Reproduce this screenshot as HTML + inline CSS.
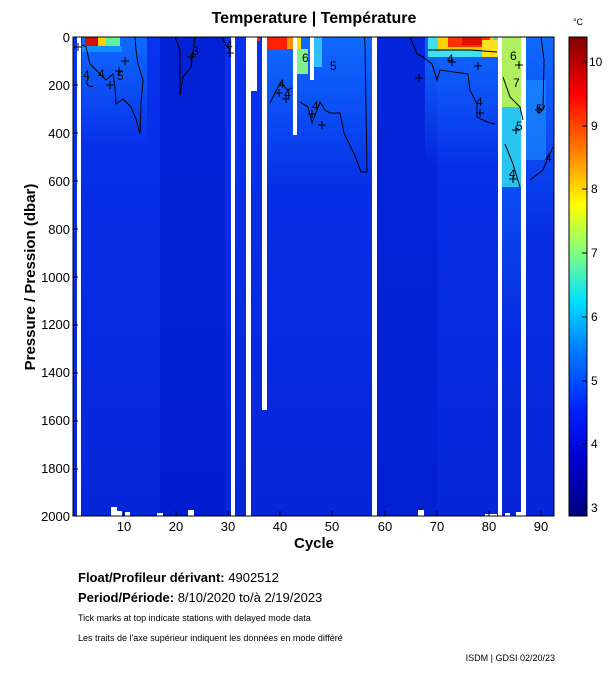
<!DOCTYPE html>
<html><head><meta charset="utf-8"><style>
body{margin:0;background:#fff;width:611px;height:675px;overflow:hidden;font-family:"Liberation Sans",sans-serif}
</style></head><body>
<svg width="611" height="675" xmlns="http://www.w3.org/2000/svg" font-family="Liberation Sans, sans-serif">
<defs>
<linearGradient id="cb" x1="0" y1="1" x2="0" y2="0">
<stop offset="0" stop-color="#000080"/>
<stop offset="0.12" stop-color="#0000d0"/>
<stop offset="0.22" stop-color="#0020ff"/>
<stop offset="0.35" stop-color="#0080ff"/>
<stop offset="0.45" stop-color="#00e0ff"/>
<stop offset="0.55" stop-color="#80ff80"/>
<stop offset="0.65" stop-color="#ffff00"/>
<stop offset="0.76" stop-color="#ff8000"/>
<stop offset="0.88" stop-color="#ff0000"/>
<stop offset="1" stop-color="#800000"/>
</linearGradient>
<linearGradient id="top" x1="0" y1="0" x2="0" y2="1">
<stop offset="0" stop-color="#1070ff" stop-opacity="0.9"/>
<stop offset="1" stop-color="#1070ff" stop-opacity="0"/>
</linearGradient>
<linearGradient id="dk" x1="0" y1="0" x2="0" y2="1">
<stop offset="0" stop-color="#0010b0" stop-opacity="0"/>
<stop offset="1" stop-color="#0010b0" stop-opacity="0.35"/>
</linearGradient>
</defs>
<text x="314" y="23" font-size="16" font-weight="bold" text-anchor="middle">Temperature | Température</text>
<text x="578" y="25" font-size="9" text-anchor="middle">°C</text>
<rect x="73" y="37" width="481" height="479" fill="#0832ee"/>
<rect x="73" y="37" width="481" height="479" fill="url(#dk)"/>
<rect x="160" y="37" width="65" height="479" fill="#0018c8" opacity="0.6"/>
<rect x="377" y="37" width="60" height="479" fill="#0018c8" opacity="0.45"/>
<rect x="82" y="37" width="65" height="110" fill="url(#top)"/>
<rect x="266" y="37" width="106" height="150" fill="url(#top)"/>
<rect x="425" y="37" width="73" height="130" fill="url(#top)"/>
<rect x="502" y="37" width="19" height="300" fill="url(#top)"/>
<rect x="526" y="37" width="28" height="200" fill="url(#top)"/>
<rect x="85" y="37" width="13" height="9" fill="#d01000"/>
<rect x="98" y="37" width="8" height="9" fill="#ffd000"/>
<rect x="106" y="37" width="14" height="10" fill="#60f0a0"/>
<rect x="82" y="46" width="40" height="6" fill="#1090ff"/>
<rect x="252" y="37" width="8" height="4" fill="#ff3000"/>
<rect x="267" y="37" width="20" height="12" fill="#ff2000"/>
<rect x="287" y="37" width="6" height="12" fill="#ff9000"/>
<rect x="297" y="37" width="4" height="12" fill="#ffe000"/>
<rect x="297" y="49" width="11" height="25" fill="#80f090"/>
<rect x="314" y="37" width="8" height="30" fill="#30c0ff"/>
<rect x="428" y="37" width="70" height="20" fill="#40e0f0"/>
<rect x="438" y="37" width="55" height="12" fill="#ffd000"/>
<rect x="448" y="37" width="42" height="10" fill="#ff3000"/>
<rect x="462" y="37" width="20" height="8" fill="#e01000"/>
<rect x="482" y="40" width="16" height="17" fill="#ffe020"/>
<rect x="502" y="37" width="19" height="70" fill="#b0f060"/>
<rect x="502" y="107" width="19" height="80" fill="#30d8f0" opacity="0.85"/>
<rect x="526" y="80" width="20" height="80" fill="#20a0ff" opacity="0.5"/>
<g fill="#fff">
<rect x="77" y="37" width="4" height="479"/>
<rect x="231" y="37" width="4" height="479"/>
<rect x="246" y="37" width="5" height="479"/>
<rect x="251" y="37" width="6" height="54"/>
<rect x="262" y="37" width="5" height="373"/>
<rect x="293" y="37" width="4" height="98"/>
<rect x="310" y="37" width="4" height="43"/>
<rect x="372" y="37" width="5" height="479"/>
<rect x="498" y="37" width="4" height="479"/>
<rect x="521" y="37" width="5" height="479"/>
<rect x="111" y="507" width="6" height="9"/><rect x="117" y="511" width="5" height="5"/>
<rect x="125" y="512" width="5" height="4"/><rect x="157" y="513" width="6" height="3"/>
<rect x="188" y="510" width="6" height="6"/><rect x="418" y="510" width="6" height="6"/>
<rect x="485" y="514" width="12" height="2"/><rect x="505" y="513" width="5" height="3"/><rect x="516" y="512" width="5" height="4"/>
</g>
<g fill="none" stroke="#000" stroke-width="1">
<path d="M82 45 L86 47 L90 64 L96 70 L106 80 L113 74 L115 87 L116 104 L123 99 L131 107 L136 119 L140 134 L141 104 L143 80 L138 64 L136 50 L135 37"/>
<path d="M89 78 C84 82 88 88 93 86"/>
<path d="M175 37 L180 50 L180 95 L183 77 L191 67 L195 37"/>
<path d="M222 37 L226 45 L230 50"/>
<path d="M270 103 L278 87 L282 83 L287 90 L292 88"/>
<path d="M300 102 L308 107 L312 123 L317 110 L320 102 L325 110 L330 113 L340 113 L344 133 L355 156 L361 172 L367 172 L365 43 L364 37"/>
<path d="M410 37 L417 54 L423 57 L432 64 L437 80 L440 70 L468 74 L470 90 L477 104 L477 117 L487 122 L495 124"/>
<path d="M428 50 L470 50 L497 52"/>
<path d="M503 77 L510 97 L520 107 L523 120"/>
<path d="M505 144 L513 164 L520 187"/>
<path d="M530 180 L543 170 L547 160 L553 147"/>
<path d="M541 37 L544 60 L543 110 L545 105"/>
</g>
<g stroke="#000" stroke-width="1">
<path d="M74 47h8M78 43v8M115 71h8M119 67v8M121 61h8M125 57v8M106 85h8M110 81v8M187 57h8M191 53v8M226 53h8M230 49v8M275 93h8M279 89v8M282 99h8M286 95v8M308 114h8M312 110v8M318 125h8M322 121v8M415 78h8M419 74v8M448 62h8M452 58v8M474 66h8M478 62v8M476 113h8M480 109v8M515 65h8M519 61v8M512 130h8M516 126v8M535 110h8M539 106v8M509 179h8M513 175v8"/>
</g>
<g font-size="12" fill="#000">
<text x="117" y="80">5</text><text x="98" y="78">4</text><text x="83" y="79">4</text>
<text x="192" y="55">3</text><text x="226" y="49">4</text><text x="278" y="88">4</text><text x="284" y="98">4</text>
<text x="312" y="110">4</text><text x="330" y="70">5</text><text x="302" y="62">6</text>
<text x="447" y="63">4</text><text x="476" y="106">4</text><text x="510" y="60">6</text><text x="513" y="87">7</text>
<text x="516" y="130">5</text><text x="536" y="113">5</text><text x="509" y="178">4</text><text x="545" y="162">4</text>
</g>
<rect x="73" y="37" width="481" height="479" fill="none" stroke="#000" stroke-width="1"/>
<g font-size="13" text-anchor="end">
<text x="70" y="42">0</text><text x="70" y="90">200</text><text x="70" y="138">400</text><text x="70" y="186">600</text>
<text x="70" y="234">800</text><text x="70" y="282">1000</text><text x="70" y="329">1200</text><text x="70" y="377">1400</text>
<text x="70" y="425">1600</text><text x="70" y="473">1800</text><text x="70" y="521">2000</text>
</g>
<g stroke="#000">
<path d="M124 516v-5M176 516v-5M228 516v-5M280 516v-5M332 516v-5M385 516v-5M437 516v-5M489 516v-5M541 516v-5"/>
<path d="M73 85h5M73 133h5M73 181h5M73 229h5M73 277h5M73 325h5M73 373h5M73 421h5M73 469h5"/>
</g>
<g font-size="13" text-anchor="middle">
<text x="124" y="531">10</text><text x="176" y="531">20</text><text x="228" y="531">30</text><text x="280" y="531">40</text>
<text x="332" y="531">50</text><text x="385" y="531">60</text><text x="437" y="531">70</text><text x="489" y="531">80</text><text x="541" y="531">90</text>
</g>
<text x="314" y="548" font-size="15" font-weight="bold" text-anchor="middle">Cycle</text>
<text transform="translate(35,277) rotate(-90)" font-size="15" font-weight="bold" text-anchor="middle">Pressure / Pression (dbar)</text>
<rect x="569" y="37" width="18" height="479" fill="url(#cb)" stroke="#000"/>
<g stroke="#000"><path d="M582 508h5M582 444h5M582 381h5M582 317h5M582 253h5M582 189h5M582 126h5M582 62h5"/></g>
<g font-size="12">
<text x="591" y="512">3</text><text x="591" y="448">4</text><text x="591" y="385">5</text><text x="591" y="321">6</text>
<text x="591" y="257">7</text><text x="591" y="193">8</text><text x="591" y="130">9</text><text x="589" y="66">10</text>
</g>
<text x="78" y="582" font-size="13" font-weight="bold">Float/Profileur dérivant: <tspan font-weight="normal">4902512</tspan></text>
<text x="78" y="602" font-size="13" font-weight="bold">Period/Période: <tspan font-weight="normal">8/10/2020  to/à  2/19/2023</tspan></text>
<text x="78" y="621" font-size="9">Tick marks at top indicate stations with delayed mode data</text>
<text x="78" y="641" font-size="9">Les traits de l'axe supérieur indiquent les données en mode différé</text>
<text x="555" y="661" font-size="9" text-anchor="end">ISDM | GDSI  02/20/23</text>
</svg>
</body></html>
